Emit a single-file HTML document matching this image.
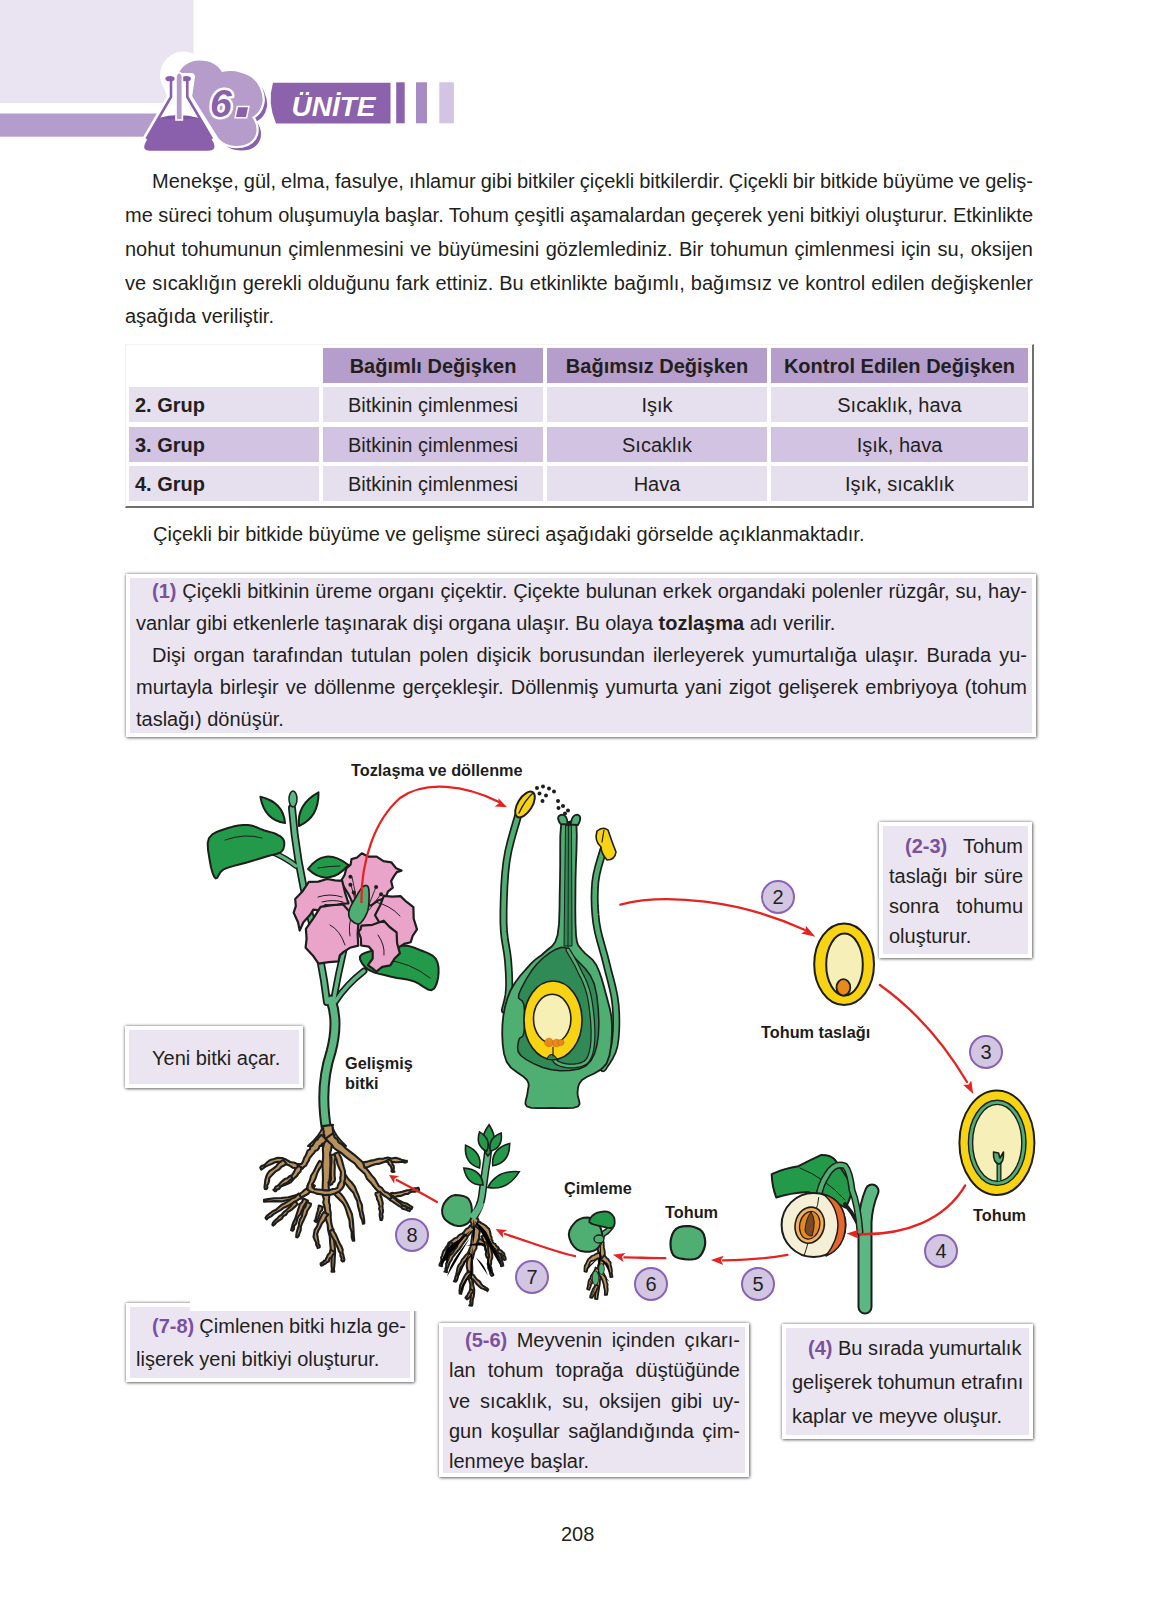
<!DOCTYPE html>
<html><head><meta charset="utf-8">
<style>
*{margin:0;padding:0;box-sizing:border-box}
html,body{width:1163px;height:1616px;background:#fff;overflow:hidden}
body{position:relative;font-family:"Liberation Sans",sans-serif;color:#231f20;font-size:20px}
.a{position:absolute}
.ln{position:absolute;white-space:nowrap;line-height:23px}
.j{text-align:justify;text-align-last:justify;word-spacing:-3px}
.box{position:absolute;background:#ebe5f2;border:4px solid #fff;box-shadow:0 0 3px rgba(0,0,0,.5),1px 1px 3px rgba(0,0,0,.4)}
.p{color:#7b509f;font-weight:bold}
.lbl{position:absolute;font-weight:bold;font-size:16.3px;line-height:20px;white-space:nowrap;color:#1d1d1b}
.num{position:absolute;width:34px;height:34px;border-radius:50%;background:#d3c6e3;border:2px solid #8a63b4;font-size:20px;line-height:30px;text-align:center;color:#231f20}
.c{position:absolute;height:35px;line-height:37px;text-align:center;white-space:nowrap}
.h{background:#b59dcc;font-weight:bold}
.r1{background:#e6dfee}
.r2{background:#d3c3e2}
</style></head><body>

<!-- header -->
<svg class="a" style="left:0;top:0" width="470" height="160" viewBox="0 0 470 160">
<rect x="0" y="0" width="193.5" height="103" fill="#eae4f2"/>
<rect x="0" y="113.5" width="160" height="23.2" fill="#b49dcc"/>
<!-- banner -->
<path d="M273,82.7 L390.5,82.7 L390.5,123.4 L276,123.4 Q267,103 273,82.7Z" fill="#8c62ac"/>
<rect x="396.2" y="82.3" width="8.5" height="41" fill="#8c62ac"/>
<rect x="416" y="82.3" width="11" height="41" fill="#a68bc4"/>
<rect x="439.3" y="82.3" width="14.6" height="41" fill="#d2c4e2"/>
<text x="291.5" y="116" font-family="Liberation Sans" font-weight="bold" font-style="italic" font-size="28" fill="#fff">ÜNİTE</text>
<!-- white lobe behind flask -->
<circle cx="183.5" cy="75" r="23.5" fill="#fff"/>
<!-- cloud shadow -->
<path transform="translate(4.5,4.5)" d="M178,75 Q183,62 198,60.5 Q215,60 222,72 Q232,70 240,72.5 Q255,76 260,88 Q264,98 262,104 Q260,113 252,117 Q258,125 256,134 Q252,146 236,146 Q226,146 219,139 L185,85 Z" fill="#8a5fab"/>
<path d="M178,75 Q183,62 198,60.5 Q215,60 222,72 Q232,70 240,72.5 Q255,76 260,88 Q264,98 262,104 Q260,113 252,117 Q258,125 256,134 Q252,146 236,146 Q226,146 219,139 L185,85 Z" fill="#fff" stroke="#fff" stroke-width="4.5" stroke-linejoin="round"/>
<path d="M178,75 Q183,62 198,60.5 Q215,60 222,72 Q232,70 240,72.5 Q255,76 260,88 Q264,98 262,104 Q260,113 252,117 Q258,125 256,134 Q252,146 236,146 Q226,146 219,139 L185,85 Z" fill="#b59ccb"/>
<!-- flask white halo -->
<path d="M165,77 L191,77 L188,97 L213,140 Q217,151 208,151 L150,151 Q141,151 146,140 L171,97Z" fill="#fff" stroke="#fff" stroke-width="8" stroke-linejoin="round"/>
<!-- flask body/liquid -->
<path d="M158.5,118 Q178,112 199,118 L213.5,142.5 Q217,150.7 208,150.7 L150,150.7 Q141.5,150.7 145.5,142.5Z" fill="#8a5fab"/>
<path d="M160,118 Q178,113.5 198,118 Q178,121 160,118Z" fill="#7d55a0"/>
<path d="M171,81 L171,97 L146.5,139" fill="none" stroke="#8a5fab" stroke-width="2.6"/>
<path d="M187.3,81 L187.3,97 L212,139" fill="none" stroke="#8a5fab" stroke-width="2.6"/>
<ellipse cx="170" cy="78.7" rx="4.6" ry="2.6" fill="#8a5fab"/>
<ellipse cx="186.3" cy="78.7" rx="4.6" ry="2.6" fill="#8a5fab"/>
<!-- tube -->
<path d="M176,120 L176,75.5 Q179.2,69.5 182.4,75.5 L182.4,120Z" fill="#b59ccb" stroke="#fff" stroke-width="1.6"/>
<!-- 6. -->
<text x="210" y="117" font-family="Liberation Sans" font-weight="bold" font-style="italic" font-size="39" fill="#8a5fab" stroke="#fff" stroke-width="5" paint-order="stroke" stroke-linejoin="round">6</text>
<path d="M238,107.3 L248,107.3 L246,116.9 L236,116.9Z" fill="#8a5fab" stroke="#fff" stroke-width="3" paint-order="stroke"/>
</svg>



<!-- paragraph -->
<div class="ln j" style="left:152px;top:170px;width:881px">Menekşe, gül, elma, fasulye, ıhlamur gibi bitkiler çiçekli bitkilerdir. Çiçekli bir bitkide büyüme ve geliş-</div>
<div class="ln j" style="left:125px;top:204px;width:908px">me süreci tohum oluşumuyla başlar. Tohum çeşitli aşamalardan geçerek yeni bitkiyi oluşturur. Etkinlikte</div>
<div class="ln j" style="left:125px;top:238px;width:908px">nohut tohumunun çimlenmesini ve büyümesini gözlemlediniz. Bir tohumun çimlenmesi için su, oksijen</div>
<div class="ln j" style="left:125px;top:272px;width:908px">ve sıcaklığın gerekli olduğunu fark ettiniz. Bu etkinlikte bağımlı, bağımsız ve kontrol edilen değişkenler</div>
<div class="ln" style="left:125px;top:305px">aşağıda veriliştir.</div>

<!-- table -->
<div class="a" style="left:125px;top:344px;width:909px;height:164px;background:#fff;border-right:2px solid #6f6f6f;border-bottom:2px solid #6f6f6f;border-left:1px solid #f0f0f0;border-top:1px solid #f4f4f4"></div>
<div class="c h" style="left:323px;top:348px;width:220px">Bağımlı Değişken</div>
<div class="c h" style="left:547px;top:348px;width:220px">Bağımsız Değişken</div>
<div class="c h" style="left:771px;top:348px;width:257px">Kontrol Edilen Değişken</div>
<div class="c r1" style="left:129px;top:387px;width:190px;text-align:left;padding-left:6px;font-weight:bold">2. Grup</div>
<div class="c r1" style="left:323px;top:387px;width:220px">Bitkinin çimlenmesi</div>
<div class="c r1" style="left:547px;top:387px;width:220px">Işık</div>
<div class="c r1" style="left:771px;top:387px;width:257px">Sıcaklık, hava</div>
<div class="c r2" style="left:129px;top:427px;width:190px;text-align:left;padding-left:6px;font-weight:bold">3. Grup</div>
<div class="c r2" style="left:323px;top:427px;width:220px">Bitkinin çimlenmesi</div>
<div class="c r2" style="left:547px;top:427px;width:220px">Sıcaklık</div>
<div class="c r2" style="left:771px;top:427px;width:257px">Işık, hava</div>
<div class="c r1" style="left:129px;top:466px;width:190px;text-align:left;padding-left:6px;font-weight:bold">4. Grup</div>
<div class="c r1" style="left:323px;top:466px;width:220px">Bitkinin çimlenmesi</div>
<div class="c r1" style="left:547px;top:466px;width:220px">Hava</div>
<div class="c r1" style="left:771px;top:466px;width:257px">Işık, sıcaklık</div>

<div class="ln" style="left:153px;top:523px">Çiçekli bir bitkide büyüme ve gelişme süreci aşağıdaki görselde açıklanmaktadır.</div>

<!-- box 1 -->
<div class="box" style="left:126px;top:574px;width:910px;height:163px"></div>
<div class="ln j" style="left:152px;top:580px;width:875px"><span class="p">(1)</span> Çiçekli bitkinin üreme organı çiçektir. Çiçekte bulunan erkek organdaki polenler rüzgâr, su, hay-</div>
<div class="ln" style="left:136px;top:612px">vanlar gibi etkenlerle taşınarak dişi organa ulaşır. Bu olaya <b>tozlaşma</b> adı verilir.</div>
<div class="ln j" style="left:152px;top:644px;width:875px">Dişi organ tarafından tutulan polen dişicik borusundan ilerleyerek yumurtalığa ulaşır. Burada yu-</div>
<div class="ln j" style="left:136px;top:676px;width:891px">murtayla birleşir ve döllenme gerçekleşir. Döllenmiş yumurta yani zigot gelişerek embriyoya (tohum</div>
<div class="ln" style="left:136px;top:708px">taslağı) dönüşür.</div>

<!-- diagram placeholder -->
<div id="diag"><svg class="a" style="left:0;top:0" width="1163" height="1616" viewBox="0 0 1163 1616">
<!-- BIG PLANT -->
<g id="bigplant" stroke-linejoin="round" stroke-linecap="round">
 <!-- stems: dark outline then green -->
 <g fill="none" stroke="#1d1d1b">
  <path d="M292,808 Q296,860 310,915 Q322,960 327,1002" stroke-width="8"/>
  <path d="M345,945 Q338,975 333,1003" stroke-width="7"/>
  <path d="M331,1000 Q339,1022 331,1052 Q319,1088 327,1132" stroke-width="11"/>
  <path d="M335,1002 Q346,985 364,971" stroke-width="7"/>
  <path d="M296,866 Q286,858 272,852" stroke-width="6"/>
 </g>
 <g fill="none" stroke="#5cb882">
  <path d="M292,808 Q296,860 310,915 Q322,960 327,1002" stroke-width="4.5"/>
  <path d="M345,945 Q338,975 333,1003" stroke-width="3.5"/>
  <path d="M331,1000 Q339,1022 331,1052 Q319,1088 327,1132" stroke-width="7"/>
  <path d="M335,1002 Q346,985 364,971" stroke-width="3.5"/>
  <path d="M296,866 Q286,858 272,852" stroke-width="3"/>
 </g>
 <!-- leaves -->
 <g fill="#23994a" stroke="#1d1d1b" stroke-width="2">
  <path d="M209.0,838.1 L212.3,834.4 L217.2,831.7 L222.7,829.7 L228.0,828.0 L233.0,826.6 L238.2,825.5 L243.3,825.0 L248.0,825.0 L252.3,825.8 L256.4,827.2 L260.2,828.9 L263.8,830.3 L267.2,831.3 L270.4,832.1 L273.3,832.9 L276.0,834.0 L278.5,835.3 L280.8,836.7 L282.7,838.4 L283.9,840.4 L284.3,843.0 L284.1,846.1 L283.3,849.1 L281.7,851.5 L279.3,853.0 L276.2,854.0 L272.5,854.9 L268.2,856.0 L263.2,857.5 L257.6,859.2 L251.7,861.0 L245.9,862.7 L240.0,864.3 L233.8,865.9 L228.1,867.6 L223.5,869.4 L220.5,872.1 L218.6,875.3 L217.2,877.9 L215.7,878.4 L214.0,876.3 L212.4,872.3 L211.0,867.2 L210.0,862.0 L209.0,856.2 L208.0,849.7 L207.7,843.3Z"/>
  <path d="M285.0,823.0 Q283.4,802.3 260.4,796.8 Q264.5,820.1 285.0,823.0Z"/>
  <path d="M299.0,826.0 Q319.0,817.3 318.5,792.3 Q296.5,804.3 299.0,826.0Z"/>
  <path d="M308.0,869.0 Q328.3,888.1 348.5,865.0 Q324.2,846.3 308.0,869.0Z"/>
  <path d="M359.9,956.6 L361.8,954.4 L365.5,952.7 L370.3,951.3 L375.6,949.9 L381.7,948.4 L388.9,946.9 L396.1,945.8 L402.4,945.4 L407.5,945.8 L411.9,946.9 L415.9,948.3 L420.0,950.0 L424.4,951.7 L428.9,953.6 L432.9,955.9 L435.9,958.9 L437.6,962.8 L438.5,967.5 L438.6,972.3 L438.2,976.7 L437.4,980.9 L436.1,985.1 L434.2,988.5 L431.5,990.2 L427.9,989.4 L423.5,986.8 L418.7,983.7 L413.6,981.2 L408.3,979.8 L402.7,978.8 L396.9,977.9 L391.2,976.7 L385.3,975.3 L379.2,973.9 L373.5,972.2 L368.9,970.0 L365.1,967.0 L362.0,963.3 L360.1,959.6Z"/>
 </g>
 <path d="M225,840 Q245,833 262,838 M385,960 Q410,962 430,978 M318,868 Q330,866 340,866" fill="none" stroke="#1d1d1b" stroke-width="1"/>
 <ellipse cx="293" cy="799" rx="4" ry="8" fill="#5cb882" stroke="#1d1d1b" stroke-width="1.5"/>
 <!-- flower -->
 <path d="M340,900 L385,900 L380,930 L360,935 L345,930Z" fill="#eaa3c9"/>
 <path d="M340.6,881.6 L344.6,875.0 L346.3,868.4 L350.6,864.6 L351.5,859.1 L357.1,857.5 L361.8,853.3 L368.5,856.7 L376.6,856.7 L383.5,861.2 L391.3,862.3 L396.1,868.2 L401.5,870.6 L396.8,872.1 L394.0,876.1 L391.1,881.1 L392.8,887.7 L387.9,891.6 L385.6,898.1 L377.9,900.5 L371.3,905.3 L362.9,905.1 L354.0,905.6 L347.8,893.1Z" fill="#eaa3c9" stroke="#1d1d1b" stroke-width="2.2"/>
 <path d="M383.8,895.8 L392.2,896.6 L400.5,896.1 L406.3,901.7 L413.4,907.2 L413.7,918.7 L417.0,929.4 L412.7,935.8 L410.7,942.2 L404.2,943.9 L398.6,947.4 L393.5,942.2 L386.1,937.2 L381.4,925.9 L375.0,915.2 L380.2,905.3Z" fill="#eaa3c9" stroke="#1d1d1b" stroke-width="2.2"/>
 <path d="M295.2,899.0 L302.7,891.2 L308.8,881.8 L318.4,881.6 L327.1,879.0 L335.1,880.3 L342.2,880.8 L345.0,892.6 L348.5,903.4 L341.6,903.7 L333.4,905.7 L325.4,905.2 L319.3,910.3 L313.3,909.6 L310.4,914.5 L303.4,922.3 L299.7,930.5 L298.0,922.3 L293.7,912.7 L295.8,906.1Z" fill="#eaa3c9" stroke="#1d1d1b" stroke-width="2.2"/>
 <path d="M305.9,928.9 L313.5,918.1 L320.6,906.8 L332.1,905.2 L343.2,904.5 L350.5,912.9 L358.5,921.6 L357.6,934.2 L358.3,945.6 L349.9,947.8 L343.6,951.9 L339.8,955.4 L338.5,961.3 L328.8,962.2 L318.5,963.7 L312.8,955.4 L305.6,947.7 L306.6,938.6Z" fill="#eaa3c9" stroke="#1d1d1b" stroke-width="2.2"/>
 <path d="M361.4,925.7 L372.4,924.8 L383.7,920.7 L389.6,927.0 L396.6,932.3 L397.1,943.3 L399.9,953.4 L394.4,958.8 L390.3,965.3 L382.2,966.8 L376.4,971.5 L372.1,968.1 L367.9,965.2 L372.7,958.5 L372.7,951.3 L368.9,946.7 L361.2,945.5 L360.8,938.1 L358.5,931.8 L360.5,929.4Z" fill="#eaa3c9" stroke="#1d1d1b" stroke-width="2.2"/>
 <path d="M318,897 Q330,893 342,897 M322,902 Q333,899 343,902 M350,936 Q348,925 352,915 M375,902 Q390,905 400,916 M330,925 Q340,930 345,945 M378,935 Q385,945 384,955" fill="none" stroke="#1d1d1b" stroke-width="1"/>
 <path d="M352,877 Q355,890 357,903 M351,885 Q354,895 356,905 M354,892 Q356,900 358,906 M376,887 Q372,897 368,907 M381,894 Q375,902 369,910" fill="none" stroke="#1d1d1b" stroke-width=".9"/>
 <path d="M349.2,910.4 L350.0,908.0 L351.3,905.2 L352.9,902.3 L354.5,899.5 L356.0,897.0 L357.4,894.6 L358.7,892.2 L360.1,890.1 L361.4,888.2 L362.7,886.9 L364.0,886.0 L365.2,885.5 L366.4,885.5 L367.4,885.9 L368.2,886.9 L368.7,888.7 L369.0,891.2 L369.1,894.2 L369.1,897.2 L369.0,900.0 L368.9,902.6 L368.7,905.1 L368.4,907.7 L367.9,910.2 L367.1,912.6 L365.9,915.2 L364.5,917.9 L362.8,920.5 L361.0,922.6 L359.3,923.8 L357.5,924.0 L355.4,923.3 L353.5,922.2 L351.7,920.7 L350.4,919.3 L349.5,917.9 L349.0,916.3 L348.7,914.5 L348.8,912.5Z" fill="#4fae72" stroke="#1d1d1b" stroke-width="1.6"/>
 <g fill="#1d1d1b"><circle cx="350.4" cy="876.8" r="2"/><circle cx="350.4" cy="884.7" r="2"/><circle cx="353.7" cy="892.5" r="2"/><circle cx="376.1" cy="886.9" r="2"/><circle cx="381.1" cy="894.2" r="2"/></g>
 <!-- roots -->
 <path d="M323,1126 L332,1126 Q335,1136 346,1146 L308,1146 Q320,1136 323,1126Z" fill="#b8915f" stroke="#1d1d1b" stroke-width="2"/>
 <g fill="#b8915f" stroke="#1d1d1b" stroke-width="2.1" stroke-linejoin="round">
  <path d="M322.3,1126.1 L323.1,1127.1 L323.3,1128.5 L323.2,1130.1 L323.9,1131.8 L323.6,1133.7 L324.5,1135.7 L324.0,1137.6 L323.5,1139.7 L323.4,1142.1 L323.7,1145.1 L322.8,1148.5 L323.1,1152.8 L323.1,1158.1 L322.4,1164.5 L322.8,1171.5 L323.0,1178.5 L322.7,1185.2 L322.6,1190.9 L322.7,1195.4 L323.9,1199.1 L323.2,1202.5 L324.3,1205.7 L325.0,1209.2 L325.5,1213.5 L325.7,1218.7 L327.6,1224.4 L328.2,1230.6 L329.8,1236.7 L330.1,1242.6 L330.6,1247.8 L330.8,1252.6 L331.5,1257.3 L331.5,1261.7 L331.5,1265.7 L331.9,1269.1 L331.5,1271.6 L334.3,1271.7 L333.9,1269.2 L334.3,1265.8 L334.6,1261.8 L334.8,1257.3 L335.1,1252.4 L334.8,1247.4 L334.3,1242.0 L333.5,1236.1 L333.1,1229.8 L331.4,1223.8 L330.7,1218.0 L330.7,1212.8 L329.9,1208.6 L329.9,1205.1 L329.0,1202.0 L329.1,1198.8 L329.3,1195.2 L329.0,1190.8 L328.6,1185.2 L329.7,1178.7 L330.1,1171.7 L330.5,1164.8 L330.4,1158.4 L330.1,1153.2 L331.2,1149.2 L331.7,1146.0 L332.3,1143.3 L332.9,1140.9 L332.4,1138.4 L333.2,1135.9 L333.0,1133.4 L333.1,1131.1 L332.7,1129.0 L332.7,1127.3 L332.4,1125.9 L333.0,1124.9Z"/>
  <path d="M321.8,1135.0 L320.6,1135.2 L319.9,1136.4 L318.6,1137.5 L317.8,1139.4 L315.9,1140.2 L314.6,1141.9 L313.6,1143.7 L312.4,1145.6 L310.4,1146.9 L309.8,1149.4 L307.5,1150.7 L306.7,1153.3 L305.5,1155.8 L304.0,1158.2 L303.3,1160.8 L302.3,1162.8 L301.2,1164.0 L299.8,1164.0 L297.7,1164.1 L294.6,1162.7 L290.2,1162.0 L286.2,1159.6 L282.0,1158.0 L277.8,1157.7 L274.0,1159.1 L270.2,1160.0 L267.0,1162.4 L264.4,1164.9 L261.5,1165.9 L260.2,1167.7 L261.3,1169.6 L263.1,1168.4 L265.5,1166.6 L268.7,1165.1 L272.0,1163.7 L275.0,1162.2 L277.9,1161.9 L281.0,1162.1 L284.6,1163.8 L288.8,1165.2 L292.6,1167.7 L296.8,1168.4 L300.5,1169.1 L303.5,1167.4 L306.1,1165.5 L307.4,1162.8 L308.9,1160.4 L309.7,1158.0 L311.1,1156.3 L312.5,1154.6 L314.1,1153.0 L315.2,1150.9 L317.5,1150.0 L318.8,1148.3 L319.5,1146.3 L321.2,1145.4 L322.2,1143.8 L324.2,1143.2 L325.1,1141.9 L326.0,1140.8 L327.3,1140.7Z"/>
  <path d="M297.4,1165.0 L297.6,1167.0 L295.7,1168.5 L294.6,1170.8 L293.3,1173.2 L291.8,1175.4 L290.3,1177.4 L288.2,1178.9 L285.7,1180.4 L283.5,1182.6 L281.2,1184.6 L278.8,1185.4 L277.4,1186.6 L278.6,1188.7 L279.9,1187.4 L282.0,1186.0 L284.8,1184.9 L287.8,1183.7 L290.8,1182.4 L292.8,1180.1 L294.7,1177.9 L297.0,1175.9 L298.5,1173.4 L300.5,1171.5 L301.1,1169.2 L302.9,1168.5Z"/>
  <path d="M283.2,1159.7 L281.4,1161.2 L278.6,1163.1 L276.1,1166.3 L272.8,1168.8 L269.4,1171.1 L267.3,1174.0 L266.1,1177.0 L265.3,1180.0 L265.0,1182.8 L264.7,1185.4 L264.5,1187.4 L264.9,1189.0 L266.3,1189.2 L267.4,1187.8 L267.1,1185.6 L268.3,1183.4 L269.1,1181.0 L269.2,1178.3 L270.8,1176.4 L272.8,1174.3 L275.3,1171.7 L278.9,1169.7 L281.5,1166.7 L284.6,1165.2 L286.5,1163.8Z"/>
  <path d="M290.6,1175.6 L289.1,1176.5 L287.4,1178.3 L284.6,1179.1 L282.3,1181.1 L280.3,1183.0 L278.8,1184.8 L277.5,1186.0 L275.9,1186.6 L275.0,1187.7 L274.8,1189.0 L273.9,1189.4 L273.3,1189.8 L274.8,1191.2 L276.0,1191.3 L276.5,1190.5 L276.9,1189.4 L278.4,1189.1 L279.5,1188.3 L280.2,1186.5 L282.1,1185.4 L284.3,1183.9 L287.2,1182.8 L289.2,1180.9 L291.1,1179.4 L292.5,1178.4Z"/>
  <path d="M309.7,1182.1 L308.5,1183.6 L307.5,1185.7 L306.9,1188.5 L304.4,1190.0 L302.3,1192.0 L299.5,1194.1 L294.7,1195.4 L288.4,1197.3 L281.2,1198.0 L274.2,1198.3 L268.1,1199.1 L263.9,1199.9 L264.1,1201.8 L268.4,1201.5 L274.4,1201.1 L281.6,1201.4 L288.8,1199.8 L295.6,1199.2 L300.8,1197.6 L304.7,1195.7 L308.2,1193.9 L310.4,1191.1 L312.7,1189.0 L314.0,1187.2 L314.9,1185.9Z"/>
  <path d="M298.7,1193.5 L297.1,1195.1 L294.9,1197.2 L291.6,1198.6 L288.4,1200.8 L285.2,1203.0 L281.9,1204.6 L279.0,1207.0 L276.0,1209.7 L272.3,1211.5 L269.3,1213.8 L266.8,1215.8 L265.5,1217.9 L266.6,1219.4 L268.2,1217.8 L271.1,1216.4 L274.0,1213.9 L277.5,1211.9 L281.0,1209.9 L283.9,1207.7 L287.2,1206.3 L290.6,1204.3 L293.9,1202.5 L297.0,1200.7 L299.4,1198.9 L301.7,1198.5Z"/>
  <path d="M295.4,1201.3 L293.9,1202.2 L292.3,1203.9 L290.6,1206.2 L288.3,1208.3 L286.1,1210.3 L283.7,1212.1 L281.8,1214.5 L279.1,1216.4 L276.9,1218.9 L274.5,1220.8 L272.9,1222.8 L272.3,1224.8 L273.1,1225.6 L274.6,1224.5 L276.3,1222.5 L278.8,1220.7 L281.6,1218.9 L283.4,1216.1 L286.1,1214.7 L287.7,1212.2 L290.3,1210.6 L292.7,1208.8 L294.8,1206.9 L296.5,1205.2 L297.9,1204.3Z"/>
  <path d="M303.4,1198.4 L302.9,1200.0 L302.0,1202.1 L299.9,1204.0 L299.1,1206.9 L298.1,1209.7 L297.2,1212.6 L296.2,1215.6 L295.1,1219.0 L293.4,1222.2 L292.3,1225.4 L291.6,1228.2 L291.1,1230.2 L292.7,1230.8 L293.9,1229.1 L294.1,1226.1 L296.3,1223.3 L297.1,1219.7 L298.4,1216.5 L300.4,1214.1 L301.4,1211.3 L302.8,1208.7 L303.9,1206.0 L305.3,1203.8 L306.9,1202.1 L308.1,1200.8Z"/>
  <path d="M306.5,1201.9 L306.2,1204.0 L305.4,1206.7 L303.3,1209.4 L302.4,1212.9 L301.8,1216.5 L300.0,1219.4 L299.1,1222.5 L298.7,1226.1 L297.6,1229.3 L296.7,1232.4 L296.3,1235.1 L296.2,1237.1 L297.5,1237.5 L298.7,1235.8 L299.5,1233.2 L300.7,1230.3 L300.9,1226.7 L302.0,1223.5 L303.5,1220.6 L304.7,1217.6 L306.3,1214.5 L307.2,1211.0 L309.0,1208.2 L310.6,1205.8 L311.0,1203.8Z"/>
  <path d="M325.9,1138.3 L326.4,1138.9 L326.8,1139.9 L328.0,1141.2 L329.5,1142.8 L331.6,1144.5 L333.4,1147.5 L336.8,1150.2 L341.2,1152.9 L345.4,1156.6 L350.0,1160.2 L354.7,1163.4 L357.8,1167.5 L361.3,1170.8 L364.9,1174.1 L366.9,1178.7 L370.3,1182.2 L373.2,1185.8 L375.8,1189.0 L378.3,1191.6 L381.0,1193.1 L383.1,1195.0 L385.3,1196.4 L387.6,1198.0 L390.2,1199.7 L393.7,1201.2 L397.7,1203.1 L401.7,1205.2 L405.9,1206.3 L408.8,1208.6 L411.5,1209.1 L412.4,1207.2 L410.2,1205.8 L407.1,1203.7 L403.0,1202.5 L399.0,1200.5 L395.4,1198.1 L392.0,1196.5 L389.7,1194.4 L387.7,1192.7 L385.2,1192.0 L383.4,1190.2 L381.9,1187.8 L379.0,1186.1 L377.0,1182.7 L374.9,1178.9 L371.7,1175.4 L368.7,1171.4 L365.5,1167.3 L363.0,1162.5 L358.9,1158.8 L354.4,1154.9 L349.8,1151.3 L345.3,1147.8 L341.8,1144.3 L338.4,1142.1 L337.2,1139.2 L335.3,1138.0 L334.3,1136.8 L334.3,1135.2 L333.2,1134.5 L332.9,1133.4Z"/>
  <path d="M364.4,1167.6 L367.2,1167.4 L370.9,1165.8 L375.1,1164.2 L379.8,1163.6 L384.2,1161.9 L388.0,1161.3 L391.5,1161.8 L395.1,1162.2 L398.6,1162.1 L402.0,1161.8 L404.6,1162.6 L406.7,1162.3 L406.9,1160.8 L404.9,1160.6 L402.2,1160.1 L399.1,1158.8 L395.5,1157.8 L391.6,1158.5 L387.7,1157.6 L383.6,1158.6 L378.8,1158.8 L374.1,1160.1 L369.6,1160.9 L365.9,1161.9 L363.2,1162.3Z"/>
  <path d="M386.3,1161.0 L386.6,1161.7 L387.9,1161.9 L388.3,1162.9 L388.6,1164.0 L389.4,1164.8 L390.3,1165.5 L390.8,1166.5 L391.3,1167.6 L391.7,1169.0 L391.7,1170.3 L391.4,1171.4 L392.6,1172.0 L394.5,1171.6 L393.4,1171.0 L393.7,1169.9 L393.8,1168.5 L393.8,1167.0 L393.6,1165.6 L392.6,1164.5 L392.4,1163.1 L391.7,1162.0 L391.2,1160.8 L390.2,1160.1 L389.5,1159.5 L389.7,1158.6Z"/>
  <path d="M391.9,1198.1 L393.5,1198.1 L395.4,1196.9 L397.8,1196.1 L400.5,1196.0 L403.1,1195.0 L405.5,1194.0 L408.0,1193.9 L410.4,1192.2 L413.1,1191.5 L415.7,1191.6 L417.7,1191.0 L419.2,1190.6 L418.5,1187.8 L417.0,1188.1 L414.9,1188.4 L412.4,1188.8 L409.9,1190.1 L407.1,1190.2 L404.7,1190.9 L402.3,1191.7 L399.6,1192.3 L396.9,1192.7 L394.4,1193.2 L392.2,1192.9 L390.7,1193.3Z"/>
  <path d="M375.6,1193.1 L375.5,1194.7 L376.7,1196.7 L377.0,1199.2 L378.3,1201.6 L378.9,1204.2 L379.7,1206.5 L379.1,1208.9 L380.1,1211.4 L379.7,1214.0 L379.8,1216.4 L380.3,1218.5 L380.5,1220.0 L381.8,1220.1 L382.4,1218.6 L382.6,1216.5 L382.2,1214.1 L383.1,1211.4 L382.7,1208.7 L382.4,1206.1 L382.8,1203.4 L382.2,1200.7 L381.5,1198.0 L380.5,1195.6 L380.8,1193.2 L380.2,1191.8Z"/>
  <path d="M340.5,1177.3 L342.4,1179.2 L344.6,1182.3 L347.4,1185.6 L350.2,1189.3 L353.4,1192.7 L355.0,1196.8 L357.2,1200.9 L358.0,1206.2 L359.5,1211.4 L360.5,1216.5 L362.3,1220.6 L362.9,1223.7 L364.3,1223.4 L364.2,1220.2 L363.6,1215.9 L362.3,1210.8 L362.0,1205.2 L359.9,1200.1 L358.4,1195.3 L356.5,1191.0 L354.7,1186.3 L351.7,1182.5 L348.5,1179.3 L346.5,1176.2 L344.9,1174.1Z"/>
  <path d="M334.3,1194.2 L335.8,1195.9 L337.9,1198.0 L340.4,1200.5 L343.1,1203.2 L345.0,1206.7 L346.3,1210.5 L347.6,1214.9 L349.5,1220.4 L349.9,1226.5 L351.7,1232.3 L351.7,1237.3 L352.8,1240.8 L354.3,1240.6 L353.9,1237.1 L353.6,1232.0 L353.3,1226.1 L352.8,1219.8 L351.9,1213.9 L349.9,1209.2 L348.0,1205.1 L346.0,1201.3 L343.9,1197.7 L341.7,1194.8 L339.6,1192.6 L338.4,1190.8Z"/>
  <path d="M323.9,1212.0 L322.2,1214.1 L320.6,1217.5 L318.6,1221.6 L317.2,1226.1 L314.7,1229.8 L314.0,1233.5 L313.5,1236.8 L314.6,1239.7 L316.0,1242.3 L316.2,1244.9 L317.3,1246.7 L317.7,1248.1 L319.7,1247.3 L319.7,1245.7 L318.5,1243.9 L318.4,1241.4 L317.9,1238.9 L317.6,1236.6 L317.1,1234.1 L318.1,1231.1 L320.1,1227.5 L322.0,1223.4 L324.9,1220.0 L326.5,1216.5 L328.4,1214.5Z"/>
  <path d="M329.4,1231.3 L330.3,1233.3 L331.7,1236.0 L333.4,1239.1 L335.5,1242.2 L336.6,1245.6 L338.0,1248.3 L338.7,1250.8 L340.3,1253.2 L340.4,1255.9 L341.6,1258.1 L341.3,1260.2 L342.5,1261.5 L343.9,1261.2 L344.4,1259.6 L343.9,1257.6 L343.4,1255.2 L342.5,1252.6 L342.7,1249.6 L341.6,1246.8 L340.0,1244.0 L338.4,1240.7 L337.0,1237.2 L335.5,1234.0 L333.8,1231.4 L333.4,1229.2Z"/>
  <path d="M318.7,1205.6 L318.6,1206.9 L318.3,1208.6 L317.8,1210.7 L317.2,1212.7 L316.6,1214.6 L316.4,1216.3 L315.9,1217.5 L315.7,1218.6 L315.5,1219.6 L315.1,1220.3 L314.5,1220.8 L315.2,1221.6 L316.9,1222.2 L316.8,1221.6 L317.4,1221.1 L317.5,1220.3 L317.4,1219.2 L318.4,1218.3 L318.6,1217.0 L319.1,1215.5 L319.8,1213.6 L320.5,1211.6 L322.2,1209.9 L322.3,1208.1 L323.0,1207.0Z"/>
  <path d="M330.8,1249.7 L330.2,1251.0 L329.7,1253.1 L327.9,1254.8 L326.9,1257.0 L325.9,1259.0 L325.2,1260.7 L323.7,1260.9 L323.4,1262.3 L322.1,1262.2 L321.6,1263.2 L320.7,1263.2 L320.6,1264.3 L321.3,1265.7 L321.8,1265.4 L322.7,1265.3 L323.5,1264.6 L324.6,1264.0 L325.9,1263.4 L327.0,1262.2 L328.9,1261.2 L329.5,1258.7 L331.6,1257.1 L332.7,1255.0 L334.1,1253.5 L334.7,1252.2Z"/>
  <path d="M334.3,1153.7 L334.7,1156.4 L336.6,1159.8 L337.5,1164.2 L339.3,1168.3 L341.0,1172.1 L340.7,1175.4 L340.3,1178.2 L340.5,1181.1 L338.8,1183.4 L337.9,1185.6 L337.3,1187.9 L335.3,1188.8 L332.7,1189.0 L329.2,1190.4 L325.0,1190.4 L320.8,1189.7 L317.1,1189.4 L314.4,1189.1 L313.1,1187.8 L312.4,1187.6 L312.6,1187.6 L312.4,1187.5 L312.3,1186.4 L312.1,1184.4 L313.9,1181.8 L315.7,1177.9 L317.2,1173.2 L319.4,1168.8 L321.9,1165.4 L322.1,1162.2 L319.5,1160.9 L317.9,1163.4 L315.9,1167.1 L313.8,1171.5 L311.0,1175.8 L309.9,1180.2 L308.5,1183.4 L307.7,1185.7 L307.5,1187.7 L307.8,1189.9 L309.8,1191.1 L311.4,1192.0 L313.6,1192.4 L316.4,1193.6 L320.3,1194.2 L324.8,1195.0 L329.4,1194.9 L333.7,1193.9 L337.1,1192.5 L340.0,1190.8 L342.3,1188.4 L344.0,1185.5 L344.2,1182.0 L345.1,1178.7 L345.1,1175.3 L345.0,1171.3 L343.7,1167.0 L342.5,1162.4 L341.2,1158.0 L339.5,1154.6 L338.9,1152.1Z"/>
  <path d="M330.2,1154.7 L331.4,1157.6 L331.4,1161.7 L331.0,1166.5 L330.8,1171.3 L330.8,1175.5 L331.1,1178.6 L330.7,1180.3 L330.3,1181.1 L329.9,1181.4 L329.9,1182.3 L328.9,1182.1 L328.3,1182.6 L330.4,1185.2 L330.6,1184.8 L330.9,1184.2 L332.2,1184.1 L332.7,1182.6 L334.5,1181.4 L335.0,1179.0 L334.6,1175.6 L334.6,1171.3 L334.8,1166.4 L334.5,1161.6 L335.5,1157.5 L334.5,1154.7Z"/>
  <path d="M389.6,1199.7 L390.8,1200.6 L392.7,1201.6 L394.7,1203.2 L397.1,1204.6 L399.1,1206.1 L401.1,1207.1 L402.5,1208.7 L404.4,1209.2 L406.2,1209.6 L407.6,1210.5 L408.9,1210.6 L409.7,1211.2 L410.5,1209.0 L409.7,1208.3 L408.5,1207.8 L406.8,1207.9 L405.6,1206.4 L403.9,1206.0 L402.2,1205.4 L400.9,1203.8 L399.0,1202.2 L396.9,1200.7 L395.3,1198.8 L393.5,1197.6 L393.1,1195.7Z"/>
 </g>
</g>
<!-- PISTIL CROSS-SECTION -->
<g id="pistil" stroke-linejoin="round" stroke-linecap="round">
 <path d="M517.8,816.7 L516.1,822.5 L513.7,830.6 L511.0,840.3 L508.4,850.9 L506.5,861.6 L505.2,873.2 L504.3,886.1 L503.8,899.3 L503.5,911.9 L503.5,922.9 L504.0,932.0 L504.9,939.8 L506.1,946.8 L507.2,953.4 L508.0,960.0 L508.5,966.6 L508.9,973.0 L509.1,979.1 L509.2,984.8 L509.0,990.0 L508.5,995.0 L507.6,999.7 L506.6,1003.9 L505.6,1007.4 L505.0,1010.0" fill="none" stroke="#1d1d1b" stroke-width="8"/>
 <path d="M517.8,816.7 L516.1,822.5 L513.7,830.6 L511.0,840.3 L508.4,850.9 L506.5,861.6 L505.2,873.2 L504.3,886.1 L503.8,899.3 L503.5,911.9 L503.5,922.9 L504.0,932.0 L504.9,939.8 L506.1,946.8 L507.2,953.4 L508.0,960.0 L508.5,966.6 L508.9,973.0 L509.1,979.1 L509.2,984.8 L509.0,990.0 L508.5,995.0 L507.6,999.7 L506.6,1003.9 L505.6,1007.4 L505.0,1010.0" fill="none" stroke="#4fae72" stroke-width="4.6"/>
 <path d="M603.5,849.4 L602.2,853.7 L600.4,859.7 L598.3,866.8 L596.5,874.4 L595.3,882.0 L594.8,889.7 L594.6,897.8 L594.8,906.1 L595.4,914.6 L596.3,922.9 L597.8,931.1 L599.8,939.2 L602.1,947.4 L604.4,955.5 L606.5,963.7 L608.5,971.9 L610.7,980.0 L612.7,988.2 L614.4,996.3 L615.5,1004.5 L616.1,1012.9 L616.3,1021.7 L616.1,1030.3 L615.5,1038.3 L614.5,1045.3 L612.7,1051.4 L610.1,1056.8 L607.3,1061.4 L604.7,1065.2 L603.0,1068.0" fill="none" stroke="#1d1d1b" stroke-width="8"/>
 <path d="M603.5,849.4 L602.2,853.7 L600.4,859.7 L598.3,866.8 L596.5,874.4 L595.3,882.0 L594.8,889.7 L594.6,897.8 L594.8,906.1 L595.4,914.6 L596.3,922.9 L597.8,931.1 L599.8,939.2 L602.1,947.4 L604.4,955.5 L606.5,963.7 L608.5,971.9 L610.7,980.0 L612.7,988.2 L614.4,996.3 L615.5,1004.5 L616.1,1012.9 L616.3,1021.7 L616.1,1030.3 L615.5,1038.3 L614.5,1045.3 L612.7,1051.4 L610.1,1056.8 L607.3,1061.4 L604.7,1065.2 L603.0,1068.0" fill="none" stroke="#4fae72" stroke-width="4.6"/>
 <path d="M561.0,826.0 L560.3,836.0 L560.2,849.8 L560.2,865.3 L560.0,880.0 L559.7,894.6 L559.5,909.8 L559.0,923.9 L557.6,935.0 L555.2,942.0 L552.0,946.2 L548.5,949.0 L545.0,952.0 L541.7,955.0 L538.5,957.3 L535.0,959.9 L531.0,963.7 L526.1,969.1 L520.4,975.5 L515.0,982.7 L510.6,990.2 L507.4,998.3 L505.0,1006.9 L503.3,1015.9 L502.4,1024.9 L502.2,1034.4 L502.7,1044.3 L504.0,1053.7 L506.5,1061.6 L510.9,1067.6 L517.0,1072.3 L522.9,1076.2 L527.0,1080.0 L528.6,1083.6 L528.6,1086.8 L527.9,1089.8 L527.5,1093.0 L526.8,1096.6 L525.7,1100.5 L525.4,1104.0 L527.0,1106.5 L531.4,1107.8 L537.8,1108.2 L545.1,1108.1 L552.0,1108.0 L559.1,1108.1 L566.6,1108.2 L573.3,1107.8 L578.0,1106.5 L579.6,1104.0 L579.1,1100.5 L577.9,1096.6 L577.5,1093.0 L577.8,1089.8 L578.2,1086.7 L579.4,1083.5 L582.0,1080.0 L587.2,1076.7 L594.2,1073.5 L601.2,1069.4 L606.5,1063.7 L609.5,1055.4 L611.2,1045.2 L611.9,1034.6 L612.0,1024.9 L611.4,1016.6 L609.9,1009.0 L608.0,1001.7 L606.0,994.3 L603.9,986.5 L601.7,978.7 L599.1,971.3 L596.3,965.0 L592.9,960.2 L588.9,956.6 L585.1,953.4 L582.0,950.0 L579.8,947.2 L578.1,945.0 L576.9,941.6 L576.0,935.0 L575.5,924.0 L575.3,909.9 L575.4,894.6 L575.5,880.0 L575.9,865.3 L576.5,849.8 L576.8,836.0 L576.5,826.0 L575.1,821.3 L573.0,820.4 L570.7,821.3 L568.5,822.0 L566.4,821.3 L564.3,820.4 L562.4,821.3Z" fill="#4fae72" stroke="#1d1d1b" stroke-width="1.8"/>
 <path d="M560.5,824 Q555,816 562,814.7 Q567,815 567.5,823 L571,823 Q572,815 577,814.7 Q583,816 578,825Z" fill="#4fae72" stroke="#1d1d1b" stroke-width="1.8"/>
 <path d="M565.5,826 L564,946 L572,946 L571.5,826Z" fill="#2f8a55" stroke="#1d1d1b" stroke-width="1"/>
 <path d="M568.5,826 L568,948" fill="none" stroke="#1d1d1b" stroke-width=".9"/>
 <path d="M561.6,947.3 L556.1,949.2 L549.7,952.9 L543.0,958.0 L537.1,963.7 L531.5,970.8 L526.1,979.4 L521.6,987.8 L518.8,994.3 L518.5,997.9 L520.2,999.5 L522.4,1001.1 L523.9,1004.5 L524.4,1010.8 L524.5,1019.0 L524.4,1027.0 L523.9,1033.0 L522.8,1036.1 L521.2,1037.3 L519.7,1038.2 L518.8,1040.0 L518.1,1043.3 L517.6,1047.3 L518.1,1051.5 L520.8,1055.5 L526.3,1059.6 L534.1,1063.9 L542.8,1067.5 L551.4,1069.8 L560.3,1070.7 L569.9,1070.6 L578.9,1069.0 L586.1,1065.7 L591.1,1060.4 L594.7,1053.3 L597.0,1044.8 L598.4,1035.1 L598.9,1023.2 L598.3,1009.3 L596.8,995.6 L594.3,984.1 L590.4,975.5 L585.2,968.5 L579.8,962.9 L575.0,958.0 L571.5,953.6 L568.6,950.0 L565.6,947.7Z" fill="#2f8a55" stroke="#1d1d1b" stroke-width="1.5"/>
 <path d="M551.4,1049.4 L551.8,1051.3 L552.4,1053.9 L553.1,1057.0 L554.3,1059.8 L556.0,1062.0 L558.5,1063.5 L561.6,1064.7 L565.1,1065.5 L568.6,1066.0 L572.0,1066.0 L575.4,1065.7 L578.9,1065.2 L582.4,1064.2 L585.5,1062.6 L588.0,1060.0 L589.8,1056.5 L591.2,1052.1 L592.2,1047.0 L592.8,1041.3 L593.0,1035.0 L592.9,1027.8 L592.4,1019.5 L591.5,1010.8 L590.4,1002.4 L589.0,995.0 L587.2,988.6 L585.1,982.8 L582.7,977.5 L580.2,972.6 L578.0,968.0 L575.8,963.5 L573.4,959.3 L571.2,955.5 L569.3,952.3 L568.0,950.0" fill="none" stroke="#1d1d1b" stroke-width="5"/>
 <path d="M551.4,1049.4 L551.8,1051.3 L552.4,1053.9 L553.1,1057.0 L554.3,1059.8 L556.0,1062.0 L558.5,1063.5 L561.6,1064.7 L565.1,1065.5 L568.6,1066.0 L572.0,1066.0 L575.4,1065.7 L578.9,1065.2 L582.4,1064.2 L585.5,1062.6 L588.0,1060.0 L589.8,1056.5 L591.2,1052.1 L592.2,1047.0 L592.8,1041.3 L593.0,1035.0 L592.9,1027.8 L592.4,1019.5 L591.5,1010.8 L590.4,1002.4 L589.0,995.0 L587.2,988.6 L585.1,982.8 L582.7,977.5 L580.2,972.6 L578.0,968.0 L575.8,963.5 L573.4,959.3 L571.2,955.5 L569.3,952.3 L568.0,950.0" fill="none" stroke="#4fae72" stroke-width="2.6"/>
 <ellipse cx="553" cy="1020.3" rx="29" ry="39.3" fill="#f8d313" stroke="#1d1d1b" stroke-width="1.6"/>
 <path d="M547,1059 Q551,1050 557,1059" fill="#2f8a55" stroke="#1d1d1b" stroke-width="1.2"/>
 <ellipse cx="552.2" cy="1018.8" rx="18.7" ry="24.5" fill="#f7f0b5" stroke="#1d1d1b" stroke-width="1.6"/>
 <path d="M553,1047 L553,1056" stroke="#1d1d1b" stroke-width="1.2"/>
 <g fill="#e8891c" stroke="#c86a10" stroke-width=".6"><circle cx="549" cy="1042.5" r="4.3"/><circle cx="556.5" cy="1043" r="3.8"/><circle cx="561" cy="1042.5" r="3"/></g>
 <ellipse cx="525" cy="804.5" rx="14.5" ry="7.2" transform="rotate(-58 525 804.5)" fill="#f8d313" stroke="#1d1d1b" stroke-width="2"/>
 <path d="M519,813 Q525,800 533,793" fill="none" stroke="#1d1d1b" stroke-width="1.4"/>
 <path d="M597,831 Q603,826 608,830 Q612,842 616,852 Q615,860 607,860 Q601,853 601,847 Q594,841 597,831Z" fill="#f8d313" stroke="#1d1d1b" stroke-width="1.6"/>
 <path d="M604,830 L602,842" fill="none" stroke="#1d1d1b" stroke-width="1.2"/>
 <g fill="#1d1d1b"><circle cx="537" cy="788" r="2"/><circle cx="543" cy="786.5" r="2"/><circle cx="549" cy="788.5" r="2"/><circle cx="539.5" cy="793.5" r="2"/><circle cx="546" cy="795.5" r="2"/><circle cx="554" cy="791.5" r="2"/><circle cx="558" cy="801" r="2"/><circle cx="563" cy="806" r="2"/><circle cx="558.5" cy="808" r="2"/><circle cx="568" cy="810.5" r="2"/><circle cx="565" cy="813.5" r="2"/><circle cx="542.5" cy="801" r="2"/></g>
</g>
<!-- OVULE tohum taslagi -->
<g id="ovule">
 <ellipse cx="844.1" cy="964.2" rx="29.9" ry="40.8" fill="#f8d313" stroke="#1d1d1b" stroke-width="2"/>
 <ellipse cx="844.5" cy="964.6" rx="18.3" ry="31" fill="#f6f0b8" stroke="#1d1d1b" stroke-width="2"/>
 <ellipse cx="843.4" cy="987.4" rx="6.9" ry="8.2" fill="#e8891c" stroke="#1d1d1b" stroke-width="1.8"/>
</g>
<!-- SEED tohum -->
<g id="seed">
 <ellipse cx="996.9" cy="1142.7" rx="37.5" ry="52.3" fill="#f8d313" stroke="#1d1d1b" stroke-width="2"/>
 <ellipse cx="997.2" cy="1142.8" rx="26.7" ry="40.5" fill="#f6f0b8" stroke="#1d1d1b" stroke-width="5.6"/>
 <ellipse cx="997.2" cy="1142.8" rx="26.7" ry="40.5" fill="none" stroke="#4fae72" stroke-width="2.8"/>
 <path d="M999,1181 L999,1163" stroke="#1d1d1b" stroke-width="5"/>
 <path d="M999,1181 L999,1163" stroke="#4fae72" stroke-width="2.4"/>
 <path d="M993.5,1152 Q993,1163 999,1164 Q1004,1163 1003.5,1152 L1000,1158 L998.5,1153 Z" fill="#4fae72" stroke="#1d1d1b" stroke-width="1.6" stroke-linejoin="round"/>
</g>
<!-- FRUIT -->
<g id="fruit" stroke-linejoin="round" stroke-linecap="round">
 <path d="M771.7,1174.1 Q785,1168 798.5,1166.2 Q810,1160 820.9,1155.1 Q826,1155 829.8,1156.2 Q834,1158 836.5,1161.8 Q842,1170 847.7,1178.5 Q851,1184 852.2,1189.7 Q850,1200 845.5,1207.6 Q838,1204 832,1200.9 Q820,1195 807.5,1192 Q790,1193 776.2,1197.5 Q772,1186 771.7,1174.1Z" fill="#23994a" stroke="#1d1d1b" stroke-width="2"/>
 <path d="M800,1168 Q825,1178 845,1200" fill="none" stroke="#1d1d1b" stroke-width="1"/>
 <path d="M865,1307 L865,1222 Q866,1205 872,1191" fill="none" stroke="#1d1d1b" stroke-width="15"/>
 <path d="M865,1307 L865,1222 Q866,1205 872,1191" fill="none" stroke="#5cb882" stroke-width="11"/>
 <path d="M857,1222 Q852,1212 845,1204" fill="none" stroke="#1d1d1b" stroke-width="4"/>
 <path d="M860,1232 Q858,1205 852,1190 Q850,1172 845,1166 Q835,1162 827.6,1174 Q820,1185 818.7,1197.5" fill="none" stroke="#1d1d1b" stroke-width="7"/>
 <path d="M860,1232 Q858,1205 852,1190 Q850,1172 845,1166 Q835,1162 827.6,1174 Q820,1185 818.7,1197.5" fill="none" stroke="#4fae72" stroke-width="4"/>
 <circle cx="813.6" cy="1225" r="32" fill="#f5efd6" stroke="#1d1d1b" stroke-width="2"/>
 <path d="M823,1194 Q845,1200 845.5,1225 Q845,1248 826,1256 Q838,1240 838,1225 Q837,1205 823,1194Z" fill="#e8662a" stroke="#1d1d1b" stroke-width="1.5"/>
 <path d="M818.7,1197.5 Q818,1205 816,1210 M808,1243 Q806,1250 804,1256" fill="none" stroke="#1d1d1b" stroke-width="1"/>
 <ellipse cx="809.7" cy="1225.2" rx="14.5" ry="18.2" transform="rotate(12 809.7 1225.2)" fill="#f3b060" stroke="#1d1d1b" stroke-width="1.6"/>
 <ellipse cx="809.7" cy="1225.2" rx="10" ry="14" transform="rotate(12 809.7 1225.2)" fill="#e8891c" stroke="#1d1d1b" stroke-width="1.2"/>
 <path d="M811,1212 Q817,1220 812,1236 Q806,1236 805,1230 Q806,1218 811,1212Z" fill="#7a4a22" stroke="#1d1d1b" stroke-width="1"/>
</g>
<!-- SMALL SEED -->
<path d="M670.6,1241.3 L671.2,1237.9 L672.3,1234.4 L673.9,1231.3 L676.1,1228.9 L679.0,1227.3 L682.5,1226.4 L686.3,1226.0 L689.8,1226.1 L693.2,1226.7 L696.7,1227.9 L699.8,1229.5 L702.2,1231.6 L703.8,1234.5 L704.8,1238.1 L705.2,1241.9 L705.0,1245.4 L704.1,1248.8 L702.5,1252.4 L700.5,1255.5 L698.1,1257.8 L695.1,1259.0 L691.5,1259.5 L687.7,1259.5 L684.3,1259.2 L681.2,1258.7 L678.1,1258.0 L675.4,1256.9 L673.3,1255.0 L671.8,1252.2 L670.9,1248.7 L670.5,1244.8Z" fill="#4fae72" stroke="#1d1d1b" stroke-width="2.2"/>
<!-- CIMLEME seedling -->
<g id="sprout" stroke-linejoin="round" stroke-linecap="round">
 <g fill="#b8915f" stroke="#1d1d1b" stroke-width="1.8" stroke-linejoin="round">
  <path d="M596.4,1241.8 L596.5,1243.6 L597.3,1246.0 L597.9,1248.9 L598.1,1252.0 L598.5,1255.0 L599.4,1257.7 L598.6,1260.3 L599.0,1263.1 L598.0,1265.8 L598.0,1268.8 L597.1,1271.9 L597.2,1275.4 L597.0,1279.3 L596.7,1283.8 L596.0,1288.3 L595.4,1292.6 L595.0,1296.3 L595.0,1298.9 L597.4,1299.2 L597.7,1296.6 L598.3,1292.9 L599.0,1288.6 L599.8,1284.1 L600.0,1279.7 L600.7,1275.9 L601.4,1272.7 L602.1,1269.6 L602.8,1266.7 L603.8,1263.8 L604.3,1260.9 L604.3,1257.8 L604.9,1254.5 L604.7,1251.2 L604.0,1247.9 L603.7,1244.9 L603.7,1242.4 L603.2,1240.7Z"/>
  <path d="M599.3,1252.5 L598.1,1253.1 L596.3,1253.7 L594.3,1255.0 L591.9,1256.0 L589.9,1257.7 L588.1,1259.3 L587.0,1261.5 L586.0,1263.7 L584.8,1265.8 L584.5,1268.1 L584.5,1270.0 L584.4,1271.3 L586.6,1271.9 L587.1,1270.7 L587.3,1268.8 L588.5,1266.9 L589.0,1264.8 L589.8,1263.0 L590.6,1261.6 L592.1,1260.8 L594.1,1260.3 L596.1,1259.4 L598.1,1258.3 L600.0,1257.9 L601.4,1257.5Z"/>
  <path d="M601.0,1259.8 L601.8,1260.5 L602.7,1261.2 L603.9,1261.7 L604.9,1262.5 L606.1,1263.1 L607.0,1264.0 L607.9,1265.7 L608.4,1268.1 L608.9,1270.8 L609.7,1273.3 L610.0,1275.6 L610.3,1277.2 L612.5,1276.9 L612.2,1275.3 L611.8,1273.0 L611.9,1270.3 L611.4,1267.5 L610.7,1264.9 L610.6,1262.4 L609.1,1260.8 L608.1,1259.0 L606.6,1258.0 L605.6,1256.6 L604.8,1255.8 L604.0,1255.5Z"/>
  <path d="M595.5,1267.5 L595.1,1269.2 L594.1,1271.2 L592.7,1273.5 L591.0,1275.8 L590.3,1278.4 L588.9,1280.3 L588.4,1282.2 L588.2,1284.1 L587.8,1285.7 L587.7,1287.2 L587.2,1288.3 L587.2,1289.2 L589.4,1289.8 L589.5,1288.9 L590.1,1287.8 L590.6,1286.5 L590.9,1285.0 L591.9,1283.6 L592.4,1281.9 L593.3,1280.0 L594.5,1277.7 L596.1,1275.4 L597.8,1273.3 L598.8,1271.3 L600.1,1270.2Z"/>
  <path d="M598.0,1272.7 L599.2,1273.6 L599.4,1275.5 L601.0,1277.1 L601.8,1279.2 L602.7,1281.2 L603.3,1283.0 L603.9,1284.9 L604.0,1287.1 L604.7,1289.4 L604.9,1291.7 L604.9,1293.6 L604.7,1294.9 L607.0,1294.9 L607.1,1293.6 L607.5,1291.7 L607.7,1289.4 L607.4,1286.9 L607.6,1284.4 L606.8,1282.2 L606.4,1279.9 L605.8,1277.5 L604.7,1275.3 L603.7,1273.4 L602.7,1271.8 L602.9,1270.3Z"/>
  <path d="M595.4,1284.5 L595.0,1285.7 L594.1,1287.3 L592.8,1289.0 L592.1,1291.1 L591.3,1292.9 L591.0,1294.4 L590.4,1295.3 L590.3,1296.1 L590.2,1296.7 L590.2,1297.2 L590.1,1297.4 L590.3,1297.5 L592.2,1297.8 L592.7,1297.5 L592.6,1297.2 L592.7,1297.1 L592.5,1296.7 L593.1,1296.3 L593.6,1295.6 L594.4,1294.4 L595.2,1292.7 L596.4,1290.9 L597.2,1288.9 L598.4,1287.4 L598.8,1286.2Z"/>
 </g>
 <path d="M600.4,1241.3 Q601.8,1257.8 599.7,1266.7 Q597.6,1275.7 597.0,1287.4 L596.3,1299.1" stroke-width="3.5"/>
  <path d="M599.0,1257.8 Q590.8,1263.3 588.0,1267.4 L585.3,1271.5" stroke-width="2.5"/>
  <path d="M601.8,1259.2 Q607.3,1263.3 609.3,1269.5 L611.4,1275.7" stroke-width="2.5"/>
  <path d="M597.6,1268.8 Q592.1,1277.0 590.1,1282.5 L588.0,1288.0" stroke-width="2.2"/>
  <path d="M599.0,1271.5 Q605.9,1277.0 608.0,1279.8 L610.0,1282.5" stroke-width="2.2"/>
  <path d="M597.0,1282.5 Q593.5,1293.5 592.1,1295.6 L590.8,1297.7" stroke-width="2.0"/>
  <path d="M597.6,1283.9 Q603.1,1293.5 603.8,1294.9 L604.5,1296.3" stroke-width="2.0"/>
 </g>
 <path d="M600.4,1241.3 Q601.8,1234.4 604.5,1233.0 Q607.3,1231.6 609.3,1228.9 L611.4,1226.1" fill="none" stroke="#1d1d1b" stroke-width="6"/>
 <path d="M600.4,1241.3 Q601.8,1234.4 604.5,1233.0 Q607.3,1231.6 609.3,1228.9 L611.4,1226.1" fill="none" stroke="#4fae72" stroke-width="3.2"/>
 <path d="M568.8,1234.4 L569.5,1230.6 L571.5,1226.7 L574.2,1223.3 L577.0,1220.6 L580.2,1218.9 L583.8,1217.8 L587.5,1217.4 L590.8,1217.9 L593.7,1219.3 L596.4,1221.7 L598.7,1224.5 L600.4,1227.5 L601.5,1230.8 L602.2,1234.4 L602.3,1238.0 L601.8,1241.3 L600.6,1244.2 L598.8,1247.0 L596.4,1249.4 L593.5,1250.9 L589.8,1251.7 L585.3,1251.8 L580.8,1251.1 L577.0,1249.5 L574.0,1246.7 L571.3,1242.7 L569.5,1238.4Z" fill="#4fae72" stroke="#1d1d1b" stroke-width="2"/>
 <path d="M589.4,1222.0 L589.4,1220.1 L590.7,1217.8 L592.6,1215.5 L594.9,1213.8 L597.6,1212.6 L601.0,1211.8 L604.4,1211.5 L607.3,1211.7 L609.6,1212.6 L611.6,1214.1 L613.1,1215.9 L614.2,1217.9 L614.6,1220.3 L614.7,1223.2 L614.1,1225.8 L612.8,1227.5 L610.4,1228.0 L607.2,1227.7 L603.7,1226.9 L600.4,1226.1 L597.2,1225.4 L593.8,1224.5 L591.0,1223.4Z" fill="#23994a" stroke="#1d1d1b" stroke-width="1.8"/>
 <ellipse cx="599" cy="1239" rx="5" ry="4" fill="#4fae72" stroke="#1d1d1b" stroke-width="1.3"/>
 <ellipse cx="595.5" cy="1278" rx="3.2" ry="7" fill="#4fae72" stroke="#1d1d1b" stroke-width=".8"/>
 <ellipse cx="601.5" cy="1269" rx="2.8" ry="5.5" fill="#4fae72" stroke="#1d1d1b" stroke-width=".8"/>
</g>
<!-- SEEDLING 7 -->
<g id="seedling7" stroke-linejoin="round" stroke-linecap="round">
 <g fill="#b8915f" stroke="#1d1d1b" stroke-width="2" stroke-linejoin="round">
  <path d="M469.6,1218.5 L469.8,1219.9 L470.5,1221.6 L471.5,1223.6 L471.4,1225.9 L472.4,1228.0 L471.9,1229.9 L472.8,1231.6 L472.7,1233.3 L472.3,1235.0 L471.9,1236.7 L471.8,1238.8 L471.4,1241.0 L471.2,1243.7 L470.5,1246.8 L469.2,1249.9 L468.1,1253.2 L467.6,1256.4 L467.5,1259.4 L466.9,1261.9 L466.8,1264.0 L466.7,1265.9 L467.0,1267.8 L467.4,1269.8 L467.4,1272.2 L468.4,1274.8 L468.6,1277.9 L469.3,1281.0 L470.3,1284.1 L470.2,1287.3 L470.1,1290.1 L470.3,1292.9 L470.8,1295.9 L470.7,1298.9 L470.2,1301.6 L470.4,1303.9 L469.3,1305.5 L471.9,1305.8 L472.5,1304.2 L472.6,1301.9 L472.9,1299.1 L473.8,1296.1 L474.2,1293.0 L474.3,1289.9 L473.7,1286.9 L473.0,1283.7 L473.0,1280.4 L472.2,1277.3 L472.3,1274.3 L472.3,1271.7 L472.3,1269.4 L472.3,1267.5 L472.1,1265.8 L472.1,1264.2 L472.0,1262.4 L472.1,1260.2 L473.0,1257.7 L473.7,1254.7 L474.5,1251.5 L476.4,1248.5 L476.7,1245.2 L477.8,1242.4 L478.5,1240.0 L479.1,1237.8 L479.1,1235.7 L479.4,1233.7 L479.9,1231.6 L479.2,1229.4 L479.6,1227.0 L478.5,1224.6 L478.2,1222.1 L478.4,1219.7 L477.3,1218.0 L477.1,1216.7Z"/>
  <path d="M470.2,1225.4 L469.5,1226.4 L468.3,1227.8 L466.5,1228.8 L465.0,1230.4 L463.7,1232.3 L462.2,1233.6 L460.4,1234.4 L458.5,1235.5 L456.9,1237.6 L454.4,1238.4 L452.5,1240.1 L450.4,1241.5 L448.4,1242.9 L447.5,1245.3 L446.1,1247.1 L445.0,1249.1 L443.5,1250.9 L442.7,1253.0 L442.1,1255.3 L441.1,1257.6 L441.4,1260.3 L440.5,1262.4 L439.6,1264.1 L439.4,1265.5 L442.0,1266.2 L442.0,1264.7 L442.6,1262.9 L443.4,1260.8 L444.2,1258.6 L444.7,1256.3 L446.2,1254.6 L447.2,1252.8 L448.3,1251.0 L449.4,1249.2 L450.6,1247.5 L451.9,1246.0 L453.3,1244.7 L454.8,1243.4 L456.8,1242.5 L458.6,1241.0 L461.1,1240.5 L463.2,1238.9 L465.2,1237.6 L467.3,1236.3 L469.2,1234.7 L470.7,1232.8 L472.3,1231.4 L473.8,1230.4 L474.4,1229.3Z"/>
  <path d="M463.9,1234.2 L463.1,1236.0 L461.5,1238.2 L459.8,1241.0 L457.9,1243.8 L456.8,1247.0 L455.0,1249.0 L453.9,1251.0 L452.9,1252.9 L451.5,1254.3 L449.9,1255.5 L448.7,1257.2 L447.7,1259.0 L447.1,1261.4 L446.1,1263.6 L446.2,1266.3 L445.4,1268.4 L445.4,1270.4 L444.5,1271.6 L447.0,1272.2 L446.8,1270.8 L447.3,1268.9 L448.2,1266.8 L449.0,1264.5 L449.9,1262.4 L451.0,1260.7 L451.9,1259.2 L452.5,1257.5 L453.6,1256.1 L454.9,1254.5 L456.2,1252.8 L457.7,1251.0 L459.6,1248.9 L461.5,1246.2 L463.3,1243.3 L465.3,1240.7 L466.9,1238.5 L467.7,1236.7Z"/>
  <path d="M468.2,1252.4 L467.3,1253.8 L465.5,1255.3 L463.8,1257.6 L461.8,1259.9 L460.6,1262.8 L458.6,1265.1 L457.5,1267.9 L456.9,1271.1 L456.2,1274.2 L455.3,1277.1 L454.9,1279.6 L453.9,1281.2 L455.9,1281.7 L457.0,1280.1 L457.7,1277.7 L458.0,1274.7 L459.2,1271.8 L460.0,1268.9 L461.3,1266.5 L463.3,1264.7 L464.3,1261.9 L466.8,1260.2 L468.5,1258.0 L470.3,1256.5 L471.6,1255.4Z"/>
  <path d="M475.2,1226.5 L476.6,1226.9 L478.0,1228.2 L480.2,1228.8 L482.0,1230.0 L483.3,1231.5 L485.0,1232.1 L485.4,1233.5 L485.9,1235.0 L486.0,1236.8 L487.3,1238.6 L487.8,1240.6 L488.6,1242.7 L489.9,1244.4 L491.4,1245.6 L493.0,1246.6 L493.8,1248.3 L495.4,1249.2 L496.0,1251.0 L497.1,1253.1 L498.5,1255.8 L499.6,1258.8 L500.3,1261.8 L500.9,1264.4 L501.0,1266.3 L503.3,1265.6 L503.0,1263.8 L502.3,1261.3 L501.7,1258.2 L501.0,1255.0 L500.4,1251.9 L499.0,1249.5 L498.2,1247.1 L496.2,1246.0 L495.4,1244.0 L493.7,1243.3 L492.5,1242.3 L492.5,1240.5 L491.4,1239.4 L491.7,1237.5 L490.7,1235.8 L490.5,1233.7 L490.0,1231.5 L489.2,1229.1 L487.3,1227.3 L485.5,1225.5 L483.3,1224.2 L481.3,1223.1 L479.8,1221.9 L478.5,1221.4Z"/>
  <path d="M481.4,1236.4 L482.3,1238.5 L483.1,1241.6 L485.1,1244.7 L486.3,1248.4 L487.6,1251.6 L488.7,1254.1 L488.6,1256.2 L488.7,1258.1 L488.3,1260.0 L488.2,1262.0 L487.6,1263.9 L488.2,1266.0 L488.2,1268.1 L489.2,1270.0 L489.9,1271.9 L490.3,1273.7 L491.0,1275.1 L492.0,1275.9 L493.4,1275.2 L493.1,1274.1 L492.3,1272.8 L491.8,1271.1 L491.6,1269.1 L491.1,1267.3 L490.3,1265.8 L491.0,1264.3 L491.2,1262.6 L491.1,1260.6 L492.2,1258.6 L492.3,1256.2 L492.1,1253.5 L491.4,1250.3 L490.6,1246.6 L488.5,1243.2 L487.4,1239.7 L486.2,1236.8 L485.6,1234.6Z"/>
  <path d="M477.1,1242.7 L478.3,1242.7 L479.4,1243.5 L480.9,1243.7 L482.3,1244.4 L483.2,1245.4 L484.4,1246.0 L485.0,1247.5 L485.2,1249.6 L486.2,1251.8 L485.7,1254.3 L486.3,1256.2 L486.8,1257.6 L489.4,1257.2 L489.1,1255.9 L488.5,1253.9 L488.3,1251.5 L488.1,1249.0 L488.1,1246.5 L487.2,1244.4 L486.1,1242.5 L483.9,1241.9 L482.5,1240.8 L481.3,1239.4 L480.0,1239.2 L479.2,1238.7Z"/>
  <path d="M468.6,1271.1 L467.9,1272.5 L465.9,1273.9 L464.5,1276.2 L463.2,1278.7 L462.1,1281.1 L461.2,1283.3 L460.1,1285.3 L459.9,1287.4 L459.7,1289.3 L459.4,1291.0 L459.7,1292.5 L459.5,1293.5 L461.2,1293.9 L461.5,1292.8 L461.8,1291.4 L462.4,1289.9 L462.8,1288.1 L463.3,1286.3 L463.8,1284.5 L465.0,1282.7 L465.9,1280.3 L467.9,1278.3 L469.1,1276.0 L470.5,1274.2 L471.5,1273.0Z"/>
  <path d="M469.6,1276.9 L470.9,1278.2 L473.1,1279.5 L475.0,1281.8 L476.8,1284.3 L479.0,1286.2 L480.7,1287.8 L482.5,1288.6 L484.0,1289.0 L485.1,1289.9 L486.2,1290.0 L487.0,1290.3 L487.3,1291.2 L488.3,1289.3 L487.6,1289.2 L487.1,1288.2 L486.1,1287.9 L485.2,1287.1 L484.0,1286.4 L482.6,1285.6 L481.2,1283.8 L479.7,1281.4 L477.1,1279.7 L475.3,1277.4 L473.9,1275.2 L472.2,1274.4Z"/>
  <path d="M471.1,1289.3 L470.1,1289.7 L469.7,1290.8 L469.2,1292.1 L468.4,1293.2 L467.8,1294.3 L467.4,1295.1 L467.3,1296.0 L466.5,1296.0 L466.2,1296.5 L466.0,1297.0 L465.9,1297.6 L465.4,1297.5 L466.9,1299.3 L466.8,1298.7 L467.7,1299.1 L467.7,1298.2 L468.8,1298.3 L469.2,1297.6 L469.9,1296.9 L470.4,1295.9 L471.0,1294.7 L471.4,1293.4 L472.7,1292.6 L472.8,1291.3 L474.0,1291.0Z"/>
  <path d="M496.8,1251.4 L497.4,1251.7 L498.2,1252.3 L498.8,1253.2 L499.7,1253.7 L501.0,1253.8 L501.6,1254.4 L502.3,1255.1 L502.7,1256.2 L502.7,1257.5 L503.2,1258.5 L503.5,1259.5 L504.3,1260.0 L505.6,1259.6 L505.7,1258.8 L505.4,1257.8 L505.2,1256.6 L504.4,1255.5 L504.4,1254.0 L503.7,1252.8 L502.6,1252.1 L501.8,1251.0 L500.8,1250.2 L499.6,1249.9 L499.1,1249.0 L498.5,1248.8Z"/>
  <path d="M450.3,1242.2 L449.7,1242.8 L449.6,1244.1 L448.7,1245.3 L448.1,1246.7 L447.7,1248.4 L446.5,1249.7 L446.4,1251.5 L446.4,1253.4 L445.9,1255.3 L446.2,1257.2 L446.1,1258.7 L445.8,1259.7 L448.2,1260.0 L448.5,1258.9 L448.7,1257.4 L448.2,1255.6 L448.3,1253.7 L448.8,1252.0 L449.5,1250.6 L450.0,1249.3 L450.4,1247.9 L451.1,1246.6 L452.2,1245.6 L452.5,1244.4 L453.2,1243.7Z"/>
 </g>
 <path d="M473.5,1217.6 Q475.9,1229.7 474.1,1238.7 Q472.2,1247.8 471.0,1256.8 Q469.8,1265.9 470.7,1274.9 Q471.6,1284.0 471.3,1294.8 L471.0,1305.7" stroke-width="6.0"/>
  <path d="M474.7,1221.2 Q485.5,1228.5 487.9,1235.1 Q490.4,1241.7 494.0,1247.8 Q497.6,1253.8 499.4,1260.4 L501.2,1267.1" stroke-width="4.5"/>
  <path d="M471.0,1229.7 Q460.2,1239.3 454.7,1242.3 Q449.3,1245.4 445.7,1252.0 Q442.1,1258.6 441.2,1262.3 L440.3,1265.9" stroke-width="4.2"/>
  <path d="M469.8,1238.1 Q457.8,1253.8 454.1,1259.8 Q450.5,1265.9 448.7,1271.3 L446.9,1276.7" stroke-width="3.0"/>
  <path d="M472.2,1247.8 Q461.4,1265.9 459.0,1273.7 L456.6,1281.6" stroke-width="2.8"/>
  <path d="M481.9,1235.7 Q487.9,1247.8 487.3,1256.8 Q486.7,1265.9 489.7,1270.7 L492.8,1275.5" stroke-width="3.0"/>
  <path d="M471.0,1271.9 Q461.4,1284.0 460.8,1288.8 L460.2,1293.6" stroke-width="2.5"/>
  <path d="M472.2,1274.3 Q483.1,1286.4 484.9,1288.2 L486.7,1290.0" stroke-width="2.5"/>
  <path d="M466.2,1245.4 Q480.7,1241.7 483.7,1243.5 L486.7,1245.4" stroke-width="3.0"/>
  <path d="M475.9,1257.4 Q483.1,1263.5 485.5,1269.5 L487.9,1275.5" stroke-width="2.4"/>
  <path d="M448.1,1246.6 Q445.7,1255.0 446.9,1260.4 L448.1,1265.9" stroke-width="2.2"/>
 </g>
 <path d="M473.5,1217.6 Q480.7,1205.5 481.9,1196.5 Q483.1,1187.4 484.3,1178.4 Q485.5,1169.3 486.7,1162.1 Q487.9,1154.8 488.5,1144.0 L489.1,1133.1" fill="none" stroke="#1d1d1b" stroke-width="8"/>
 <path d="M473.5,1217.6 Q480.7,1205.5 481.9,1196.5 Q483.1,1187.4 484.3,1178.4 Q485.5,1169.3 486.7,1162.1 Q487.9,1154.8 488.5,1144.0 L489.1,1133.1" fill="none" stroke="#5cb882" stroke-width="5"/>
 <g fill="#23994a" stroke="#1d1d1b" stroke-width="1.6">
  <path d="M487.9,1156.0 Q500.5,1142.4 489.1,1124.7 Q476.5,1141.5 487.9,1156.0Z"/>
  <path d="M486.7,1151.2 Q491.9,1139.4 479.5,1131.9 Q475.0,1145.7 486.7,1151.2Z"/>
  <path d="M490.4,1151.2 Q503.0,1147.7 501.2,1133.1 Q487.5,1138.4 490.4,1151.2Z"/>
  <path d="M479.5,1168.1 Q482.7,1152.1 465.6,1145.2 Q463.8,1163.5 479.5,1168.1Z"/>
  <path d="M492.8,1165.7 Q509.9,1162.9 509.7,1143.4 Q490.8,1148.4 492.8,1165.7Z"/>
  <path d="M483.1,1185.0 Q481.7,1169.1 463.8,1168.1 Q467.2,1185.7 483.1,1185.0Z"/>
  <path d="M487.9,1187.4 Q507.4,1191.1 519.3,1171.7 Q496.7,1169.6 487.9,1187.4Z"/>
 </g>
 <path d="M442.7,1206.7 L444.0,1203.6 L446.2,1200.5 L448.8,1197.7 L451.7,1195.9 L455.2,1195.1 L459.2,1195.2 L463.1,1195.9 L466.2,1197.1 L468.4,1198.8 L469.9,1201.1 L471.0,1203.8 L471.6,1206.7 L471.9,1210.2 L471.8,1214.3 L471.2,1218.2 L469.8,1221.2 L467.6,1223.4 L464.5,1225.0 L461.1,1225.9 L457.8,1226.0 L454.3,1225.2 L450.5,1223.5 L447.0,1221.2 L444.5,1218.8 L443.0,1216.1 L442.2,1213.0 L442.1,1209.8Z" fill="#4fae72" stroke="#1d1d1b" stroke-width="2"/>
 <path d="M469,1216 Q476,1208 480,1200 L484,1204 Q480,1214 474,1220Z" fill="#5cb882"/>
</g>
<!-- ARROWS -->
<g fill="none" stroke="#e52421" stroke-width="2.3" stroke-linecap="round">
 <path d="M361.4,902.2 C361,860 375,820 400,798 C425,780 465,785 499,802"/>
 <path d="M620.4,904.6 C665,893 740,900 805,930"/>
 <path d="M879.9,985 C915,1010 945,1045 967,1082"/>
 <path d="M965.2,1185.4 C945,1220 905,1235 860,1234.2"/>
 <path d="M787.4,1254.8 C765,1259 745,1260 723,1260.3"/>
 <path d="M665.3,1258.2 C648,1258 636,1257.5 624.4,1257.4"/>
 <path d="M575,1256.2 C555,1252 530,1242 505,1234"/>
 <path d="M436.9,1202 C425,1195 410,1187 396.7,1180"/>
</g>
<g fill="#e52421">
 <path d="M507.1,807.2 L494.6,806.6 L498.8,803.4 L498.4,798.2Z"/>
 <path d="M815.3,936.8 L801.1,933.5 L805.6,930.9 L805.9,925.7Z"/>
 <path d="M973.2,1094.0 L963.1,1084.7 L968.4,1084.8 L971.3,1080.5Z"/>
 <path d="M846.6,1233.5 L859.6,1229.6 L856.8,1234.1 L859.0,1238.8Z"/>
 <path d="M710.9,1259.9 L723.5,1255.7 L720.9,1260.2 L723.3,1264.9Z"/>
 <path d="M612.9,1254.8 L625.4,1252.9 L622.0,1256.8 L623.4,1261.9Z"/>
 <path d="M495.6,1229.1 L507.1,1229.9 L502.8,1232.8 L502.9,1238.1Z"/>
 <path d="M389.0,1174.9 L399.2,1176.0 L394.6,1178.5 L394.2,1183.8Z"/>
</g>
</svg>
</div>

<!-- labels -->
<div class="lbl" style="left:351px;top:760px">Tozlaşma ve döllenme</div>
<div class="lbl" style="left:761px;top:1022px">Tohum taslağı</div>
<div class="lbl" style="left:345px;top:1053px">Gelişmiş<br>bitki</div>
<div class="lbl" style="left:564px;top:1178px">Çimleme</div>
<div class="lbl" style="left:665px;top:1202px">Tohum</div>
<div class="lbl" style="left:973px;top:1205px">Tohum</div>

<!-- numbers -->
<div class="num" style="left:761px;top:880px">2</div>
<div class="num" style="left:969px;top:1035px">3</div>
<div class="num" style="left:924px;top:1234px">4</div>
<div class="num" style="left:741px;top:1267px">5</div>
<div class="num" style="left:634px;top:1267px">6</div>
<div class="num" style="left:515px;top:1260px">7</div>
<div class="num" style="left:395px;top:1218px">8</div>

<!-- boxes in diagram -->
<div class="box" style="left:125px;top:1026px;width:178px;height:62px"></div>
<div class="ln" style="left:152px;top:1047px">Yeni bitki açar.</div>

<div class="box" style="left:879px;top:822px;width:153px;height:136px"></div>
<div class="ln j" style="left:905px;top:835px;width:118px"><span class="p">(2-3)</span> Tohum</div>
<div class="ln j" style="left:889px;top:865px;width:134px">taslağı bir süre</div>
<div class="ln j" style="left:889px;top:895px;width:134px">sonra tohumu</div>
<div class="ln" style="left:889px;top:925px">oluşturur.</div>

<div class="box" style="left:126px;top:1303px;width:288px;height:79px"></div>
<div class="a" style="left:190px;top:1290px;width:244px;height:21px;background:#fff"></div>
<div class="ln j" style="left:152px;top:1315px;width:254px"><span class="p">(7-8)</span> Çimlenen bitki hızla ge-</div>
<div class="ln" style="left:136px;top:1348px">lişerek yeni bitkiyi oluşturur.</div>

<div class="box" style="left:439px;top:1323px;width:310px;height:154px"></div>
<div class="ln j" style="left:465px;top:1329px;width:275px"><span class="p">(5-6)</span> Meyvenin içinden çıkarı-</div>
<div class="ln j" style="left:449px;top:1359px;width:291px">lan tohum toprağa düştüğünde</div>
<div class="ln j" style="left:449px;top:1390px;width:291px">ve sıcaklık, su, oksijen gibi uy-</div>
<div class="ln j" style="left:449px;top:1420px;width:291px">gun koşullar sağlandığında çim-</div>
<div class="ln" style="left:449px;top:1450px">lenmeye başlar.</div>

<div class="box" style="left:782px;top:1324px;width:251px;height:115px"></div>
<div class="ln" style="left:808px;top:1337px"><span class="p">(4)</span> Bu sırada yumurtalık</div>
<div class="ln" style="left:792px;top:1371px">gelişerek tohumun etrafını</div>
<div class="ln" style="left:792px;top:1405px">kaplar ve meyve oluşur.</div>

<div class="ln" style="left:561px;top:1523px">208</div>
</body></html>
